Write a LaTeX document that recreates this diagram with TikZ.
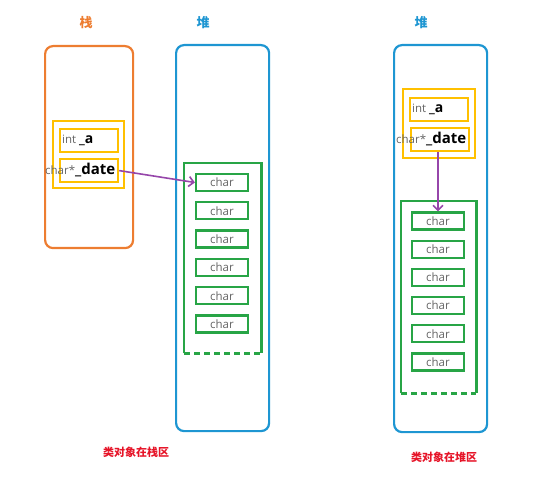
\documentclass[tikz,border=0pt]{standalone}
\usepackage{fontspec}
\setmainfont{Open Sans}
\newfontfamily\cjkfont{Noto Sans CJK SC}
\usetikzlibrary{positioning, arrows.meta}
\definecolor{stackorange}{RGB}{237,125,49}
\definecolor{heapblue}{RGB}{30,150,210}
\definecolor{fieldyellow}{RGB}{255,192,0}
\definecolor{chargreen}{RGB}{40,165,70}
\definecolor{pointerpurple}{RGB}{150,70,170}
\definecolor{captionred}{RGB}{230,20,40}
\definecolor{typegray}{RGB}{100,100,100}
\def\cornerradius{8pt}
\def\boxlinewidth{2.2pt}
\def\charwidth{52pt}
\def\charheight{17pt}
\def\fieldwidth{58pt}
\def\fieldheight{23pt}
\tikzset{
	% section titles
	title/.style={
		font=\cjkfont\bfseries\fontsize{13}{15}\selectfont,
		inner sep=0pt,
	},
	% memory areas
	area/.style={
		draw,
		line width=\boxlinewidth,
		rounded corners=\cornerradius,
		shape=rectangle,
		anchor=north west,
		inner sep=0pt,
	},
	stackarea/.style={
		area,
		draw=stackorange,
	},
	heaparea/.style={
		area,
		draw=heapblue,
	},
	% object and its fields
	object/.style={
		draw=fieldyellow,
		line width=\boxlinewidth,
		shape=rectangle,
		anchor=north west,
		inner sep=0pt,
	},
	field/.style={
		object,
		minimum width=\fieldwidth,
		minimum height=\fieldheight,
	},
	fieldtext/.style={
		anchor=west,
		inner sep=0pt,
		font=\fontsize{11.5}{13}\selectfont,
	},
	% char array
	block/.style={
		shape=rectangle,
		anchor=north west,
		inner sep=0pt,
	},
	blockline/.style={
		draw=chargreen,
		line width=\boxlinewidth,
	},
	charbox/.style={
		draw=chargreen,
		line width=\boxlinewidth,
		shape=rectangle,
		minimum width=\charwidth,
		minimum height=\charheight,
		inner sep=0pt,
		font=\fontsize{11.5}{13}\selectfont,
		text=typegray,
	},
	% pointer
	pointer/.style={
		draw=pointerpurple,
		line width=1.6pt,
		-{Straight Barb[length=5pt,width=10pt]},
	},
	caption/.style={
		font=\cjkfont\bfseries\fontsize{11}{13}\selectfont,
		text=captionred,
	}
}
\begin{document}
\begin{tikzpicture}[x=1pt,y=-1pt]
	\useasboundingbox (0,0) rectangle (539,500);
	% left: object on the stack
	\node[title, text=stackorange] (stacktitle) at (86,23) {栈};
	\node[title, text=heapblue] (heaptitle) at (203,23) {堆};
	\node[stackarea, minimum width=88pt, minimum height=202pt] (stack) at (44,45) {};
	\node[heaparea, minimum width=93pt, minimum height=386pt] (heap) at (175,44) {};
	%
	\node[object, minimum width=71pt, minimum height=67pt] (obj) at (52,120) {};
	\node[field] (fa) at (59,128) {};
	\node[field] (fdate) at (59,158) {};
	\node[fieldtext] (ta) at ([xshift=3pt]fa.west) {\textcolor{typegray}{int} \textbf{\fontsize{14}{16}\selectfont\_a}};
	\node[fieldtext] (tdate) at (45,170) {\textcolor{typegray}{char*}\textbf{\fontsize{15}{17}\selectfont\_date}};
	%
	\node[block, minimum width=77pt, minimum height=190pt] (arr) at (184,163) {};
	\draw[blockline] (arr.south west) -- (arr.north west) -- (arr.north east) -- (arr.south east);
	\draw[blockline, dash pattern=on 6pt off 4pt] (arr.south west) -- (arr.south east);
	\foreach \i in {1,...,6}
		\node[charbox] (lc\i) at (222,{182.5+28.3*(\i-1)}) {char};
	%
	\draw[pointer] (fdate.east) -- (lc1.west);
	\node[caption] (leftcaption) at (136,452) {类对象在栈区};
	% right: object on the heap
	\node[title, text=heapblue] (heaptitle2) at (421,23) {堆};
	\node[heaparea, minimum width=93pt, minimum height=387pt] (heap2) at (393,44) {};
	%
	\node[object, minimum width=72pt, minimum height=69pt] (obj2) at (402,88) {};
	\node[field] (fa2) at (409,97) {};
	\node[field] (fdate2) at (410,127) {};
	\node[fieldtext] (ta2) at ([xshift=3pt]fa2.west) {\textcolor{typegray}{int} \textbf{\fontsize{14}{16}\selectfont\_a}};
	\node[fieldtext] (tdate2) at (396,139) {\textcolor{typegray}{char*}\textbf{\fontsize{15}{17}\selectfont\_date}};
	%
	\node[block, minimum width=75pt, minimum height=192pt] (arr2) at (401,201) {};
	\draw[blockline] (arr2.south west) -- (arr2.north west) -- (arr2.north east) -- (arr2.south east);
	\draw[blockline, dash pattern=on 6pt off 4pt] (arr2.south west) -- (arr2.south east);
	\foreach \i in {1,...,6}
		\node[charbox] (rc\i) at (438,{221+28.2*(\i-1)}) {char};
	%
	\draw[pointer] (fdate2.south -| rc1.north) -- (rc1.north);
	\node[caption] (rightcaption) at (444,457) {类对象在堆区};
\end{tikzpicture}
\end{document}
